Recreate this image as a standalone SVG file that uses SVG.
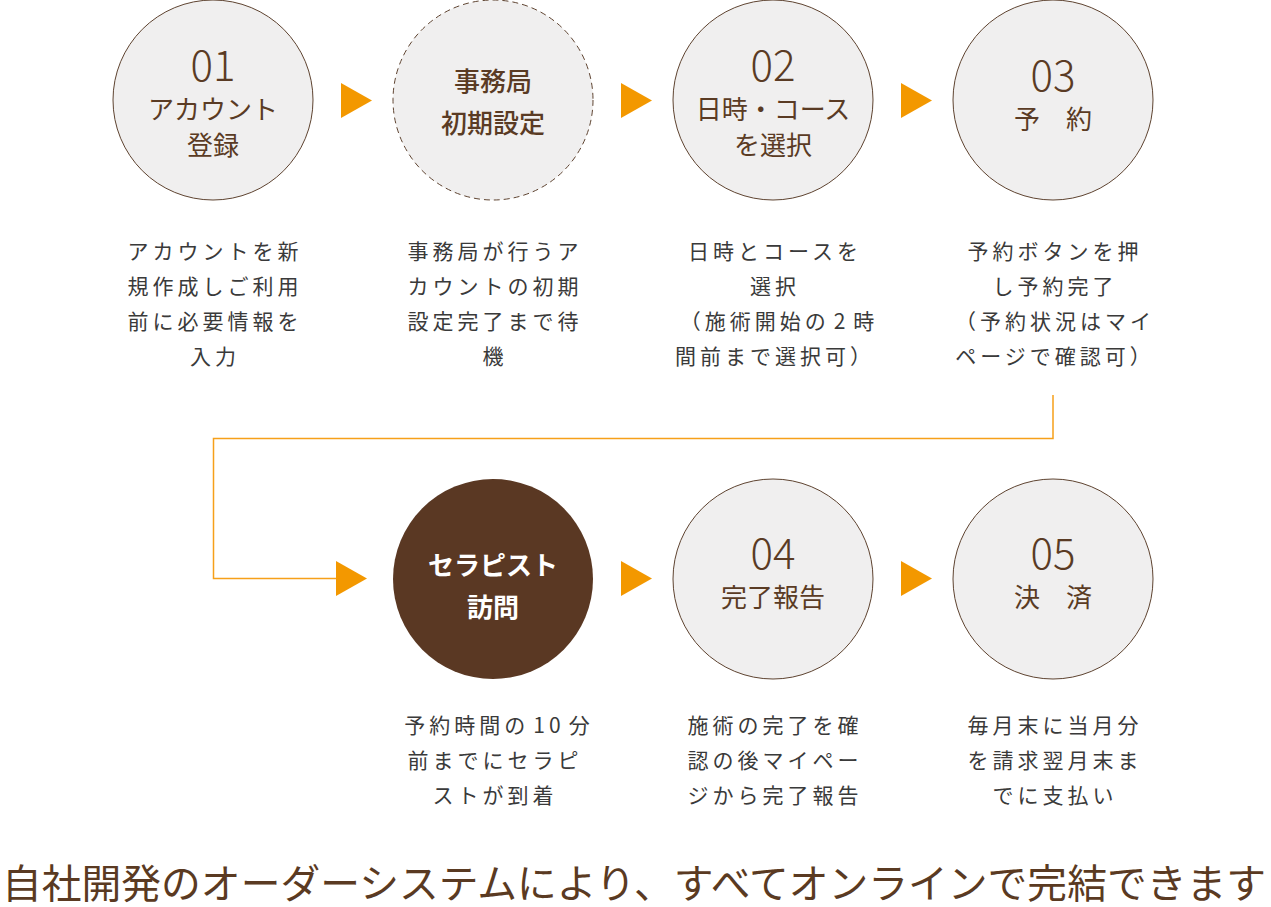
<svg xmlns="http://www.w3.org/2000/svg" width="1271" height="907" viewBox="0 0 1271 907">
<style>
.c{fill:#f0efef;stroke:#5e4330;stroke-width:1}
.cd{fill:#f0efef;stroke:#5e4330;stroke-width:1;stroke-dasharray:6 4}
.cb{fill:#5a3823}
.num{font-family:"Noto Sans CJK JP","Noto Sans",sans-serif;font-weight:300;font-size:42px;fill:#5a3b24;text-anchor:middle}
.lb{font-family:"Noto Sans CJK JP",sans-serif;font-weight:400;font-size:26px;fill:#5a3b24;text-anchor:middle}
.lbm{font-family:"Noto Sans CJK JP",sans-serif;font-weight:500;font-size:26px;fill:#5a3b24;text-anchor:middle}
.lbw{font-family:"Noto Sans CJK JP",sans-serif;font-weight:700;font-size:26px;fill:#ffffff;text-anchor:middle}
.d{font-family:"Noto Sans CJK JP",sans-serif;font-weight:400;font-size:21px;fill:#3a3a3a;text-anchor:middle;letter-spacing:4px}
.arr{fill:#f39800}
.ln{fill:none;stroke:#f6a01a;stroke-width:1.5}
.foot{font-family:"Noto Sans CJK JP",sans-serif;font-weight:400;font-size:40px;fill:#5a3a22}
</style>
<g id="connectors">
<path class="ln" d="M1053,395 V438.5 H213.5 V578.5 H336"/>
<polygon class="arr" points="341,83 372,100.5 341,118"/>
<polygon class="arr" points="621,83 652,100.5 621,118"/>
<polygon class="arr" points="901,83 932,100.5 901,118"/>
<polygon class="arr" points="336,561 367,578.5 336,596"/>
<polygon class="arr" points="621,561 652,578.5 621,596"/>
<polygon class="arr" points="901,561 932,578.5 901,596"/>
</g>
<g id="step01">
<circle class="c" cx="213" cy="100" r="100"/>
<text class="num" x="213" y="81">01</text>
<text class="lb" x="213" y="119">アカウント</text>
<text class="lb" x="213" y="155">登録</text>
<text class="d" x="215" y="259">アカウントを新</text>
<text class="d" x="215" y="294">規作成しご利用</text>
<text class="d" x="215" y="329">前に必要情報を</text>
<text class="d" x="215" y="364">入力</text>
</g>
<g id="office">
<circle class="cd" cx="493" cy="100" r="100"/>
<text class="lbm" x="493" y="91">事務局</text>
<text class="lbm" x="493" y="133">初期設定</text>
<text class="d" x="495" y="259">事務局が行うア</text>
<text class="d" x="495" y="294">カウントの初期</text>
<text class="d" x="495" y="329">設定完了まで待</text>
<text class="d" x="495" y="364">機</text>
</g>
<g id="step02">
<circle class="c" cx="773" cy="100" r="100"/>
<text class="num" x="773" y="81">02</text>
<text class="lb" x="773" y="119">日時・コース</text>
<text class="lb" x="773" y="155">を選択</text>
<text class="d" x="775" y="259">日時とコースを</text>
<text class="d" x="775" y="294">選択</text>
<text class="d" x="779" y="329">（施術開始の<tspan dx="4">2</tspan><tspan dx="4">時</tspan></text>
<text class="d" x="775" y="364">間前まで選択可）</text>
</g>
<g id="step03">
<circle class="c" cx="1053" cy="100" r="100"/>
<text class="num" x="1053" y="91">03</text>
<text class="lb" x="1053" y="129">予　約</text>
<text class="d" x="1055" y="259">予約ボタンを押</text>
<text class="d" x="1055" y="294">し予約完了</text>
<text class="d" x="1055" y="329">（予約状況はマイ</text>
<text class="d" x="1055" y="364">ページで確認可）</text>
</g>
<g id="visit">
<circle class="cb" cx="493" cy="579" r="100"/>
<text class="lbw" x="493" y="575">セラピスト</text>
<text class="lbw" x="493" y="617">訪問</text>
<text class="d" x="499" y="733">予約時間の<tspan dx="4">10</tspan><tspan dx="4">分</tspan></text>
<text class="d" x="495" y="768">前までにセラピ</text>
<text class="d" x="495" y="803">ストが到着</text>
</g>
<g id="step04">
<circle class="c" cx="773" cy="579" r="100"/>
<text class="num" x="773" y="569">04</text>
<text class="lb" x="773" y="607">完了報告</text>
<text class="d" x="775" y="733">施術の完了を確</text>
<text class="d" x="775" y="768">認の後マイペー</text>
<text class="d" x="775" y="803">ジから完了報告</text>
</g>
<g id="step05">
<circle class="c" cx="1053" cy="579" r="100"/>
<text class="num" x="1053" y="569">05</text>
<text class="lb" x="1053" y="607">決　済</text>
<text class="d" x="1055" y="733">毎月末に当月分</text>
<text class="d" x="1055" y="768">を請求翌月末ま</text>
<text class="d" x="1055" y="803">でに支払い</text>
</g>
<g id="footer">
<text class="foot" x="2" y="898" textLength="1264" lengthAdjust="spacingAndGlyphs">自社開発のオーダーシステムにより、すべてオンラインで完結できます</text>
</g>
</svg>
